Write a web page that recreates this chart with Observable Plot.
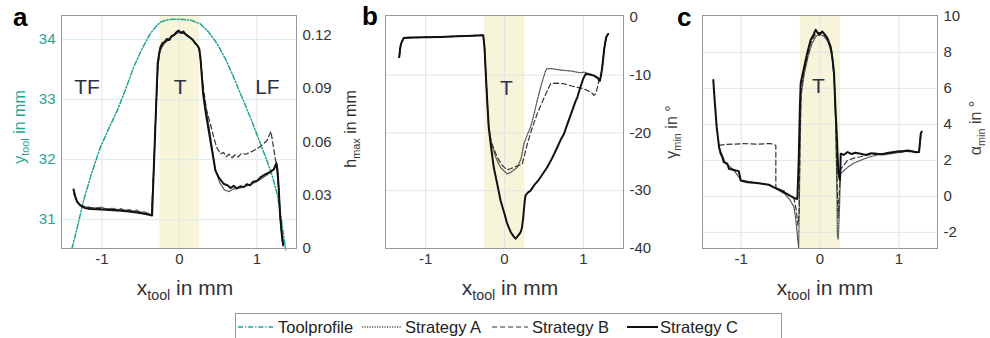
<!DOCTYPE html>
<html><head><meta charset="utf-8">
<script src="https://cdn.jsdelivr.net/npm/d3@7"></script>
<script src="https://cdn.jsdelivr.net/npm/@observablehq/plot@0.6"></script>
<style>
body{margin:0;background:#fff;font-family:"Liberation Sans",Arial,sans-serif;}
#root{position:relative;width:990px;height:338px;overflow:hidden;background:#fff;}
.pl{position:absolute;top:0;}
.ttl{position:absolute;white-space:nowrap;transform:translate(-50%,-50%);line-height:1;}
.rot{transform:translate(-50%,-50%) rotate(-90deg);}
.ttl sub{font-size:68%;vertical-align:baseline;position:relative;top:0.38em;}
.lbl{position:absolute;font-weight:bold;font-size:26px;color:#000;line-height:1;}
</style></head><body><div id="root"></div>
<script>
// ---------- data ----------
const xTicks = [-1, 0, 1];
const yToolTicks = [31, 32, 33, 34];
const hTicks = [0, 0.03, 0.06, 0.09, 0.12];
const gammaTicks = [-40, -30, -20, -10, 0];
const alphaTicks = [-2, 0, 2, 4, 6, 8, 10];
const tRegion = [{x1: -0.25, x2: 0.26}];
const legendLabels = ["Toolprofile", "Strategy A", "Strategy B", "Strategy C"];
const panelLetters = ["a", "b", "c"];
const aZones = [{x: -1.19, y: 0.0905, t: "TF"}, {x: 0.01, y: 0.0905, t: "T"}, {x: 1.135, y: 0.0905, t: "LF"}];
const bZones = [{x: 0.025, y: -12.2, t: "T"}];
const cZones = [{x: -0.02, y: 6.1, t: "T"}];

// panel a: tool profile (x, y_tool in mm)
const aToolprofile = [[-1.385,30.52],[-1.33,30.8],[-1.235,31.32],[-1.13,31.78],[-1.02,32.2],[-0.91,32.52],[-0.80,32.82],[-0.70,33.15],[-0.59,33.54],[-0.48,33.85],[-0.374,34.1],[-0.30,34.22],[-0.245,34.29],[-0.15,34.33],[0,34.34],[0.15,34.32],[0.27,34.26],[0.38,34.12],[0.486,33.93],[0.60,33.66],[0.70,33.37],[0.80,33.06],[0.916,32.7],[1.02,32.35],[1.13,31.98],[1.2,31.72],[1.26,31.43],[1.31,31.05],[1.37,30.5]];
// panel a: h_max in mm
const aStrategyA = [[-1.36,0.031],[-1.32,0.026],[-1.25,0.0235],[-1.1,0.0228],[-1.0,0.0232],[-0.95,0.0222],[-0.85,0.0226],[-0.8,0.0218],[-0.75,0.0224],[-0.7,0.0214],[-0.65,0.0220],[-0.6,0.0210],[-0.55,0.0216],[-0.5,0.0204],[-0.45,0.0206],[-0.36,0.0190],[-0.33,0.045],[-0.30,0.080],[-0.275,0.103],[-0.25,0.111],[-0.2,0.1150],[-0.15,0.1170],[-0.1,0.1190],[-0.05,0.1205],[0,0.1215],[0.05,0.1210],[0.1,0.1195],[0.15,0.1180],[0.2,0.1160],[0.25,0.1130],[0.27,0.107],[0.31,0.088],[0.34,0.080],[0.40,0.063],[0.46,0.045],[0.52,0.037],[0.58,0.0330],[0.64,0.0320],[0.70,0.0335],[0.78,0.0340],[0.86,0.0350],[0.95,0.0365],[1.05,0.0390],[1.15,0.0420],[1.22,0.0445],[1.25,0.047],[1.28,0.034],[1.30,0.018],[1.33,0.003]];
const aStrategyB = [[-1.36,0.0325],[-1.32,0.0262],[-1.25,0.0238],[-1.1,0.0226],[-0.95,0.0222],[-0.8,0.0218],[-0.65,0.0212],[-0.5,0.0203],[-0.36,0.0190],[-0.33,0.045],[-0.30,0.081],[-0.275,0.104],[-0.25,0.112],[-0.2,0.1155],[-0.1,0.119],[0,0.1220],[0.1,0.120],[0.2,0.1160],[0.25,0.1130],[0.27,0.107],[0.31,0.090],[0.35,0.078],[0.40,0.070],[0.44,0.063],[0.48,0.057],[0.53,0.0532],[0.57,0.0540],[0.6,0.0515],[0.64,0.0530],[0.68,0.0510],[0.72,0.0528],[0.76,0.0515],[0.8,0.0535],[0.86,0.0530],[0.955,0.0550],[1.05,0.0575],[1.13,0.0607],[1.18,0.0658],[1.21,0.058],[1.24,0.0495],[1.26,0.0470],[1.28,0.034],[1.30,0.018],[1.33,0.003]];
const aStrategyC = [[-1.364,0.0332],[-1.35,0.030],[-1.32,0.0265],[-1.28,0.0242],[-1.22,0.0228],[-1.15,0.0222],[-1.05,0.0220],[-0.95,0.0218],[-0.85,0.0215],[-0.75,0.0212],[-0.65,0.0208],[-0.55,0.0203],[-0.45,0.0195],[-0.38,0.0188],[-0.352,0.0186],[-0.33,0.045],[-0.30,0.080],[-0.28,0.104],[-0.26,0.110],[-0.245,0.113],[-0.22,0.1155],[-0.19,0.1162],[-0.16,0.1178],[-0.13,0.1172],[-0.10,0.1195],[-0.07,0.1200],[-0.04,0.1215],[-0.01,0.1225],[0.02,0.1212],[0.05,0.1220],[0.08,0.1205],[0.11,0.1195],[0.14,0.1185],[0.17,0.1175],[0.20,0.1155],[0.23,0.1142],[0.258,0.1120],[0.271,0.1075],[0.306,0.087],[0.335,0.0776],[0.40,0.0607],[0.465,0.0438],[0.507,0.040],[0.57,0.0364],[0.62,0.0355],[0.66,0.0340],[0.70,0.0352],[0.74,0.0338],[0.787,0.0350],[0.83,0.0345],[0.87,0.0362],[0.91,0.0355],[0.95,0.0375],[1.0,0.0380],[1.045,0.040],[1.10,0.0415],[1.16,0.0428],[1.217,0.0445],[1.25,0.0480],[1.265,0.044],[1.28,0.0345],[1.30,0.0176],[1.32,0.008],[1.34,0.0017]];

// panel b: gamma_min in degrees
const bStrategyA = [[-1.336,-6.9],[-1.314,-4.6],[-1.28,-3.6],[-1.0,-3.45],[-0.6,-3.3],[-0.27,-3.1],[-0.254,-5.2],[-0.24,-9],[-0.22,-14.4],[-0.20,-19],[-0.17,-21.5],[-0.13,-23.5],[-0.093,-24.8],[-0.05,-26],[0.034,-27.1],[0.08,-26.8],[0.16,-26],[0.21,-24.5],[0.246,-21.9],[0.29,-20.3],[0.33,-19],[0.37,-17],[0.415,-14.4],[0.47,-11.5],[0.52,-9.3],[0.54,-8.9],[0.6,-8.9],[0.65,-9.0],[0.7,-9.1],[0.754,-9.2],[0.85,-9.3],[0.95,-9.6],[1.01,-9.5],[1.1,-9.9],[1.18,-10.4],[1.21,-11],[1.225,-10],[1.24,-8.7],[1.265,-5.5],[1.29,-3.46],[1.315,-2.9]];
const bStrategyB = [[-1.336,-6.9],[-1.314,-4.6],[-1.28,-3.6],[-1.0,-3.45],[-0.6,-3.3],[-0.27,-3.1],[-0.254,-5.2],[-0.24,-9],[-0.22,-14.4],[-0.20,-19],[-0.17,-21.5],[-0.093,-24.2],[-0.03,-25.6],[0.03,-26.4],[0.076,-26.2],[0.15,-25.8],[0.225,-25.4],[0.29,-21.9],[0.35,-19.2],[0.415,-16.7],[0.5,-14],[0.56,-12.2],[0.585,-11.5],[0.65,-11.4],[0.754,-11.5],[0.85,-11.9],[1.01,-12.4],[1.1,-13],[1.136,-13.5],[1.16,-13.2],[1.18,-12.1],[1.2,-10.8],[1.22,-10.5],[1.24,-8.7],[1.265,-5.5],[1.29,-3.46],[1.315,-2.9]];
const bStrategyC = [[-1.336,-6.9],[-1.325,-5.5],[-1.314,-4.6],[-1.28,-3.6],[-1.2,-3.5],[-1.0,-3.45],[-0.8,-3.4],[-0.6,-3.3],[-0.4,-3.2],[-0.27,-3.1],[-0.254,-5.2],[-0.24,-9],[-0.22,-14.4],[-0.20,-19],[-0.17,-22.5],[-0.136,-26],[-0.09,-29],[-0.05,-31.7],[0,-34],[0.034,-35.7],[0.08,-37.2],[0.12,-38],[0.14,-38.3],[0.17,-37.8],[0.204,-37.2],[0.22,-36.5],[0.238,-34.6],[0.255,-32],[0.267,-30.8],[0.30,-30.3],[0.33,-30],[0.38,-29],[0.43,-28.2],[0.48,-27.2],[0.54,-26],[0.6,-24.5],[0.66,-22.8],[0.72,-21],[0.754,-20.2],[0.8,-18.4],[0.85,-16.5],[0.9,-14.6],[0.925,-13.8],[0.97,-11.8],[1.0,-10.6],[1.03,-9.8],[1.08,-9.9],[1.136,-10.1],[1.18,-10.5],[1.21,-11],[1.225,-10],[1.24,-8.7],[1.265,-5.5],[1.29,-3.46],[1.315,-2.9]];

// panel c: alpha_min in degrees
const cStrategyA = [[-1.28,2.74],[-1.2,1.85],[-1.1,1.5],[-1.0,0.9],[-0.8,0.75],[-0.65,0.62],[-0.55,0.4],[-0.45,0.15],[-0.38,-0.2],[-0.33,-0.6],[-0.31,-1.17],[-0.28,-2.48],[-0.27,-2.85],[-0.255,2],[-0.24,5.6],[-0.2,6.8],[-0.15,7.8],[-0.1,8.5],[-0.05,8.9],[0,9.0],[0.05,8.9],[0.1,8.6],[0.15,7.9],[0.18,6.5],[0.2,4],[0.215,0],[0.22,-2.1],[0.23,-2.4],[0.245,-1],[0.26,1.25],[0.35,1.62],[0.43,1.85],[0.516,2.0],[0.6,2.15],[0.728,2.3],[0.8,2.3],[0.94,2.4],[1.1,2.5],[1.256,2.45],[1.278,3.4]];
const cStrategyB = [[-1.28,2.83],[-1.2,2.88],[-1.1,2.9],[-0.965,2.93],[-0.8,2.9],[-0.7,2.92],[-0.626,2.93],[-0.56,2.83],[-0.56,0.46],[-0.5,0.35],[-0.457,0.3],[-0.4,0.1],[-0.33,-0.1],[-0.3,-0.8],[-0.28,-1.6],[-0.265,-1],[-0.255,3],[-0.24,5.9],[-0.2,7.0],[-0.12,8.5],[-0.05,9.1],[0.03,9.1],[0.1,8.7],[0.15,8.0],[0.18,6.6],[0.2,4],[0.215,1],[0.23,-1.2],[0.245,0.2],[0.26,1.5],[0.35,2.0],[0.45,2.15],[0.516,2.2],[0.6,2.3],[0.728,2.35],[0.9,2.4],[1.1,2.5],[1.256,2.45],[1.278,3.45]];
const cStrategyC = [[-1.353,6.46],[-1.336,5.35],[-1.31,3.85],[-1.28,2.74],[-1.26,2.37],[-1.24,2.2],[-1.22,1.9],[-1.175,1.81],[-1.155,1.53],[-1.07,1.44],[-1.03,1.4],[-1.006,0.88],[-0.92,0.78],[-0.8,0.74],[-0.71,0.69],[-0.65,0.65],[-0.584,0.50],[-0.52,0.38],[-0.457,0.22],[-0.4,0.08],[-0.33,-0.09],[-0.287,-0.15],[-0.27,2],[-0.255,5],[-0.245,6.28],[-0.2,7.2],[-0.16,8.0],[-0.118,8.7],[-0.08,9.0],[-0.055,9.26],[-0.013,8.98],[0.03,9.16],[0.06,9.0],[0.094,8.8],[0.136,8.3],[0.16,7.6],[0.178,6.84],[0.195,5],[0.212,3.49],[0.233,1.25],[0.254,0.88],[0.263,2.37],[0.30,2.3],[0.35,2.46],[0.40,2.35],[0.45,2.42],[0.516,2.37],[0.58,2.3],[0.65,2.4],[0.728,2.37],[0.8,2.35],[0.87,2.42],[0.94,2.46],[1.0,2.5],[1.05,2.5],[1.11,2.55],[1.17,2.5],[1.22,2.45],[1.256,2.46],[1.278,3.49],[1.29,3.6]];

// ---------- styles ----------
const TEAL = "#1ea493";
const SHADE = "#f6f4d9";
const GRID = "#e4e4e4";
const FONT = "'Liberation Sans', Arial, sans-serif";
const fmt = d => String(d);
const lineA = {x: d => d[0], y: d => d[1], stroke: "#555", strokeWidth: 1.3, strokeDasharray: "1.2,1.3"};
const lineB = {x: d => d[0], y: d => d[1], stroke: "#333", strokeWidth: 1.2, strokeDasharray: "5,3"};
const lineC = {x: d => d[0], y: d => d[1], stroke: "#111", strokeWidth: 2};
const zoneText = {x: "x", y: "y", text: "t", fontSize: 21, fill: "#2d3142"};
const baseStyle = color => ({background: "transparent", fontSize: "15px", fontFamily: FONT, color, overflow: "visible"});

const root = document.getElementById("root");
function place(svg, left) {
  const d = document.createElement("div");
  d.className = "pl"; d.style.left = left + "px";
  d.appendChild(svg); root.appendChild(d);
}

// ---------- panel a ----------
const aBox = {width: 340, height: 300, marginLeft: 61, marginRight: 44, marginTop: 15, marginBottom: 52};
const aX = [-1.52, 1.51];
place(Plot.plot({
  ...aBox,
  x: {domain: aX, axis: null},
  y: {domain: [30.52, 34.4], ticks: yToolTicks, axis: "left", tickSize: 0, tickPadding: 6, label: null, tickFormat: fmt},
  style: baseStyle(TEAL),
  marks: [
    Plot.barX(tRegion, {x1: "x1", x2: "x2", fill: SHADE}),
    Plot.ruleX(xTicks, {stroke: GRID}),
    Plot.ruleY(yToolTicks, {stroke: "#dcecea"}),
    Plot.line(aToolprofile, {x: d => d[0], y: d => d[1], stroke: TEAL, strokeWidth: 1.5, strokeDasharray: "5,2,1.2,2"})
  ]
}), 0);
place(Plot.plot({
  ...aBox,
  x: {domain: aX, ticks: xTicks, tickSize: 0, tickPadding: 5, label: null, tickFormat: fmt},
  y: {domain: [0, 0.131], ticks: hTicks, axis: "right", tickSize: 0, tickPadding: 6, label: null, tickFormat: fmt},
  style: baseStyle("#333"),
  marks: [
    Plot.line(aStrategyA, lineA),
    Plot.line(aStrategyB, lineB),
    Plot.line(aStrategyC, lineC),
    Plot.text(aZones, zoneText),
    Plot.frame({stroke: "#999"})
  ]
}), 0);

// ---------- panel b ----------
place(Plot.plot({
  width: 340, height: 300, marginLeft: 55, marginRight: 47, marginTop: 15, marginBottom: 52,
  x: {domain: [-1.51, 1.51], ticks: xTicks, tickSize: 0, tickPadding: 5, label: null, tickFormat: fmt},
  y: {domain: [-40, 0.3], ticks: gammaTicks, axis: "right", tickSize: 0, tickPadding: 6, label: null, tickFormat: fmt},
  style: baseStyle("#333"),
  marks: [
    Plot.barX(tRegion, {x1: "x1", x2: "x2", fill: SHADE}),
    Plot.ruleX(xTicks, {stroke: GRID}),
    Plot.ruleY(gammaTicks.filter(v => v > -40 && v < 0), {stroke: GRID}),
    Plot.line(bStrategyA, lineA),
    Plot.line(bStrategyB, lineB),
    Plot.line(bStrategyC, lineC),
    Plot.text(bZones, zoneText),
    Plot.frame({stroke: "#999"})
  ]
}), 330);

// ---------- panel c ----------
place(Plot.plot({
  width: 330, height: 300, marginLeft: 42, marginRight: 53, marginTop: 15, marginBottom: 52,
  x: {domain: [-1.49, 1.49], ticks: xTicks, tickSize: 0, tickPadding: 5, label: null, tickFormat: fmt},
  y: {domain: [-2.9, 10.05], ticks: alphaTicks, axis: "right", tickSize: 0, tickPadding: 6, label: null, tickFormat: fmt},
  style: baseStyle("#333"),
  marks: [
    Plot.barX(tRegion, {x1: "x1", x2: "x2", fill: SHADE}),
    Plot.ruleX(xTicks, {stroke: GRID}),
    Plot.ruleY(alphaTicks.filter(v => v < 10), {stroke: GRID}),
    Plot.line(cStrategyA, lineA),
    Plot.line(cStrategyB, lineB),
    Plot.line(cStrategyC, lineC),
    Plot.text(cZones, zoneText),
    Plot.frame({stroke: "#999"})
  ]
}), 660);

// ---------- titles ----------
function title(html, cx, cy, size, color, rot) {
  const d = document.createElement("div");
  d.className = "ttl" + (rot ? " rot" : "");
  d.style.left = cx + "px"; d.style.top = cy + "px";
  d.style.fontSize = size + "px"; d.style.color = color;
  d.innerHTML = html; root.appendChild(d);
}
const xTitle = "x<sub>tool</sub> in mm";
title(xTitle, 185, 287, 21, "#333", false);
title(xTitle, 510, 287, 21, "#333", false);
title(xTitle, 825, 287, 21, "#333", false);
title("y<sub>tool</sub> in mm", 20, 127, 16, TEAL, true);
title("h<sub>max</sub> in mm", 351, 129, 16, "#333", true);
title("γ<sub>min</sub> in °", 672, 132, 16, "#444", true);
title("α<sub>min</sub> in °", 976, 128, 16, "#444", true);

[[13, 4], [362, 3], [677, 4]].forEach((p, i) => {
  const d = document.createElement("div");
  d.className = "lbl"; d.style.left = p[0] + "px"; d.style.top = p[1] + "px";
  d.textContent = panelLetters[i]; root.appendChild(d);
});

// ---------- legend ----------
const ns = "http://www.w3.org/2000/svg";
const lg = document.createElementNS(ns, "svg");
lg.setAttribute("width", 990); lg.setAttribute("height", 40);
lg.style.position = "absolute"; lg.style.left = "0px"; lg.style.top = "300px";
lg.innerHTML = `<rect x="235.5" y="13.5" width="546" height="40" fill="#fff" stroke="#999"/>`;
const legendStyles = [
  {x1: 238, x2: 273, tx: 278, stroke: TEAL, w: 1.5, dash: "5,2,1.2,2"},
  {x1: 362, x2: 402, tx: 405, stroke: "#555", w: 1.3, dash: "1.2,1.3"},
  {x1: 492, x2: 528, tx: 532, stroke: "#333", w: 1.2, dash: "5,3"},
  {x1: 627, x2: 658, tx: 660, stroke: "#111", w: 2, dash: null}
];
legendLabels.forEach((t, i) => {
  const s = legendStyles[i];
  const l = document.createElementNS(ns, "line");
  l.setAttribute("x1", s.x1); l.setAttribute("x2", s.x2); l.setAttribute("y1", 27); l.setAttribute("y2", 27);
  l.setAttribute("stroke", s.stroke); l.setAttribute("stroke-width", s.w);
  if (s.dash) l.setAttribute("stroke-dasharray", s.dash);
  lg.appendChild(l);
  const tx = document.createElementNS(ns, "text");
  tx.setAttribute("x", s.tx); tx.setAttribute("y", 33);
  tx.setAttribute("font-size", 16.5); tx.setAttribute("font-family", "Liberation Sans, Arial, sans-serif");
  tx.setAttribute("fill", "#222");
  tx.textContent = t; lg.appendChild(tx);
});
root.appendChild(lg);
</script>
</body></html>
